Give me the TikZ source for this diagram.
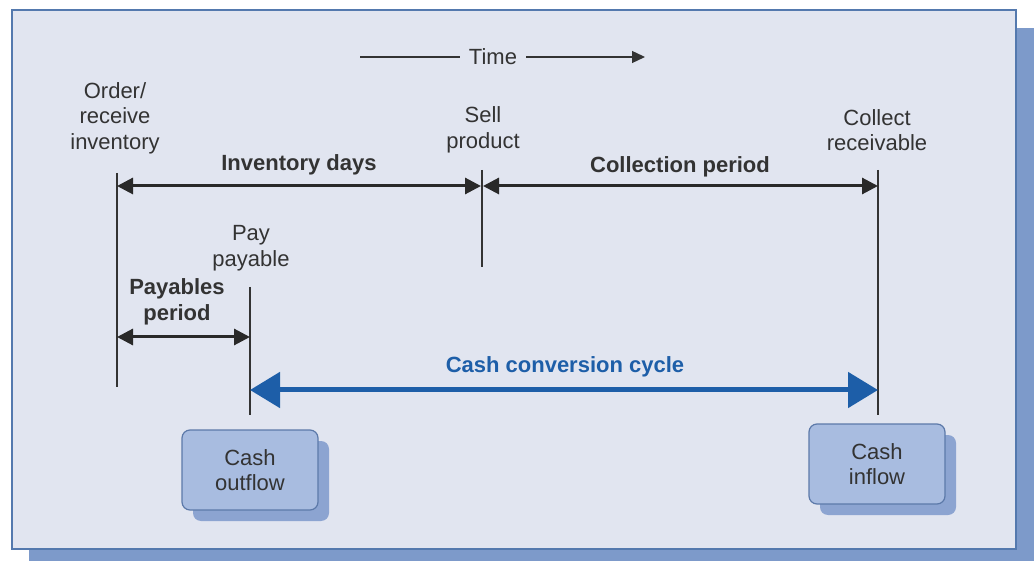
\documentclass[tikz,border=0pt]{standalone}
\usepackage{fontspec}
\setmainfont{Liberation Sans}
\usetikzlibrary{arrows.meta}
\definecolor{panel}{HTML}{E1E5F0}
\definecolor{panelline}{HTML}{5479AE}
\definecolor{panelshadow}{HTML}{7D9ACA}
\definecolor{boxfill}{HTML}{A8BCE0}
\definecolor{boxline}{HTML}{5C79A9}
\definecolor{boxshadow}{HTML}{8CA4D1}
\definecolor{cycleblue}{HTML}{1D5EA8}
\definecolor{ink}{HTML}{333333}
\tikzset{
  lbl/.style={text=ink, align=center, font=\fontsize{22}{25.5}\selectfont, inner sep=0pt},
  bold lbl/.style={lbl, font=\fontsize{22}{25.5}\selectfont\bfseries},
  marker/.style={draw=ink, line width=1.4pt},
  span/.style={draw=ink!80!black, line width=3pt, {Triangle[length=16pt,width=16pt]}-{Triangle[length=16pt,width=16pt]}},
  cashbox/.style={draw=boxline, line width=1.2pt, fill=boxfill, rounded corners=8pt,
    minimum width=136pt, minimum height=80pt, align=center, text=ink,
    font=\fontsize{22}{25.5}\selectfont, inner sep=0pt},
  cashshadow/.style={fill=boxshadow, rounded corners=8pt, minimum width=136pt, minimum height=80pt, inner sep=0pt}
}
\begin{document}
\begin{tikzpicture}[x=1pt,y=-1pt]
\useasboundingbox (0,0) rectangle (1034,561);
% panel and its drop shadow
\fill[panelshadow] (29,28) rectangle (1034,561);
\filldraw[fill=panel, draw=panelline, line width=1.2pt] (12,10) rectangle (1016,549);

% time axis
\node[lbl] (time) at (493,57) {Time};
\coordinate (tL) at (360,57);
\coordinate (tR) at (645,57);
\draw[draw=ink, line width=1.3pt] (tL) -- ([xshift=-9pt]time.west);
\draw[draw=ink, line width=1.3pt, -{Triangle[length=13pt,width=12pt]}] ([xshift=9pt]time.east) -- (tR);

% event labels
\node[lbl] (order) at (115,118) {Order/\\receive\\inventory};
\node[lbl] (sell) at (483,130) {Sell\\product};
\node[lbl] (collect) at (877,130) {Collect\\receivable};
\node[lbl] (pay) at (251,248) {Pay\\payable};

% vertical event markers
\coordinate (o1) at (117,173); \coordinate (o2) at (117,387);
\coordinate (s1) at (482,170); \coordinate (s2) at (482,267);
\coordinate (c1) at (878,170); \coordinate (c2) at (878,415);
\coordinate (p1) at (250,287); \coordinate (p2) at (250,415);
\draw[marker] (o1) -- (o2);
\draw[marker] (s1) -- (s2);
\draw[marker] (c1) -- (c2);
\draw[marker] (p1) -- (p2);

% period spans
\coordinate (invL) at (117,186);
\coordinate (invR) at (481,186);
\coordinate (colL) at (483,186);
\coordinate (colR) at (878,186);
\draw[span] (invL) -- (invR);
\draw[span] (colL) -- (colR);
\node[bold lbl] (invdays) at (299,165) {Inventory days};
\node[bold lbl] (colper) at (680,167) {Collection period};

\coordinate (payL) at (117,337);
\coordinate (payR) at (250,337);
\draw[span] (payL) -- (payR);
\node[bold lbl] (payper) at (177,302) {Payables\\period};

% cash conversion cycle
\coordinate (cccL) at (250,390);
\coordinate (cccR) at (878,390);
\draw[draw=cycleblue, line width=5pt, {Triangle[length=30pt,width=35pt]}-{Triangle[length=30pt,width=35pt]}] (cccL) -- (cccR);
\node[bold lbl, text=cycleblue] (ccc) at (565,367) {Cash conversion cycle};

% cash flow boxes
\node[cashshadow] at (261,481) {};
\node[cashbox] (outflow) at (250,470) {Cash\\outflow};
\node[cashshadow] at (888,475) {};
\node[cashbox] (inflow) at (877,464) {Cash\\inflow};
\end{tikzpicture}
\end{document}
